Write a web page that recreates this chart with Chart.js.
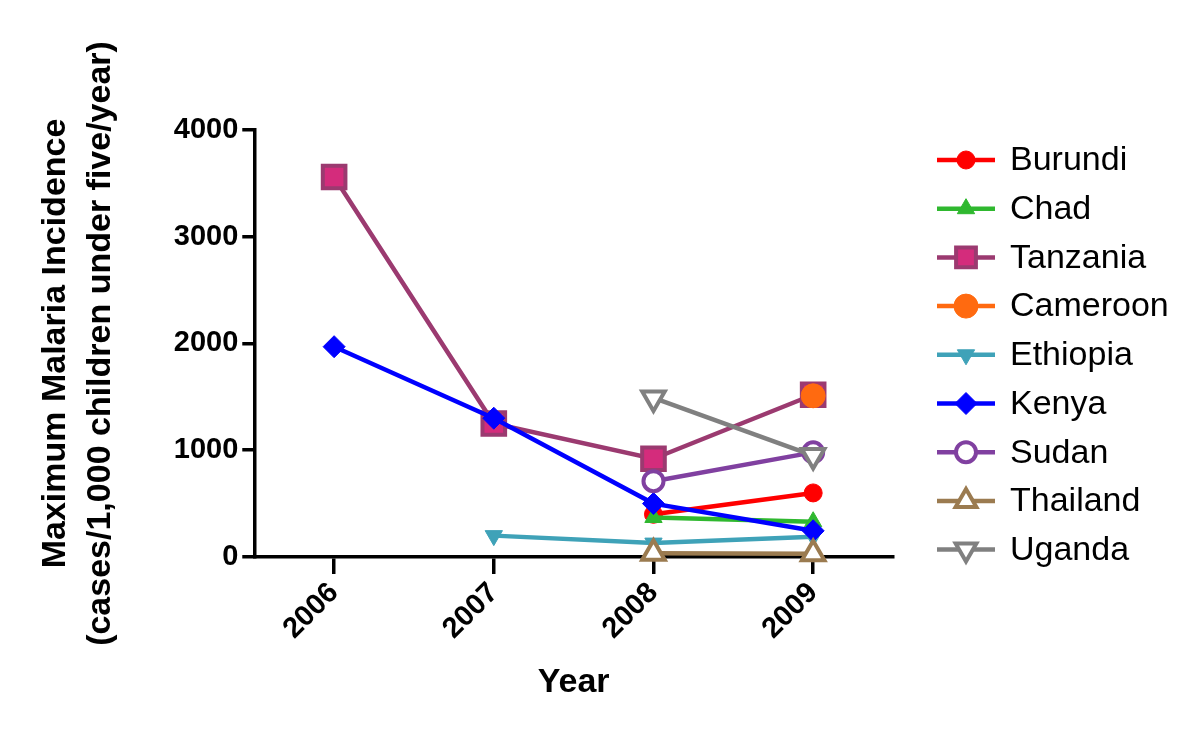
<!DOCTYPE html>
<html>
<head>
<meta charset="utf-8">
<script src="https://cdn.jsdelivr.net/npm/chart.js@4"></script>
<style>
  html, body { margin: 0; padding: 0; background: #fff; }
  #wrap { width: 1200px; height: 729px; }
</style>
</head>
<body>
<div id="wrap"><canvas id="malariaChart" width="1200" height="729"></canvas></div>
<script>
const years = ['2006', '2007', '2008', '2009'];
const countries = ['Burundi', 'Chad', 'Tanzania', 'Cameroon', 'Ethiopia', 'Kenya', 'Sudan', 'Thailand', 'Uganda'];

const burundi  = [null, null, 400, 600];
const chad     = [null, null, 370, 330];
const tanzania = [3560, 1250, 920, 1520];
const cameroon = [null, null, null, 1510];
const ethiopia = [null, 200, 130, 190];
const kenya    = [1970, 1300, 500, 245];
const sudan    = [null, null, 710, 980];
const thailand = [null, null, 35, 30];
const uganda   = [null, null, 1490, 950];

const seriesValues = [burundi, chad, tanzania, cameroon, ethiopia, kenya, sudan, thailand, uganda];

// marker look per country
const styles = [
  { color: '#ff0000', fill: '#ff0000', shape: 'circle', radius: 9, rot: 0, bw: 1 },
  { color: '#2fb82f', fill: '#2fb82f', shape: 'triangle', radius: 10, rot: 0, bw: 1 },
  { color: '#9b3a70', fill: '#d42c7c', shape: 'rect', radius: 16, rot: 0, bw: 4 },
  { color: '#ff6a10', fill: '#ff6a10', shape: 'circle', radius: 12, rot: 0, bw: 1 },
  { color: '#3fa2b8', fill: '#3fa2b8', shape: 'triangle', radius: 10, rot: 180, bw: 1 },
  { color: '#0000ff', fill: '#0000ff', shape: 'rectRot', radius: 11, rot: 0, bw: 1 },
  { color: '#8040a0', fill: '#ffffff', shape: 'circle', radius: 10, rot: 0, bw: 4 },
  { color: '#9b7b50', fill: '#ffffff', shape: 'triangle', radius: 13, rot: 0, bw: 4 },
  { color: '#808080', fill: '#ffffff', shape: 'triangle', radius: 13, rot: 180, bw: 4 }
];

const FONT = 'Arial, "Liberation Sans", sans-serif';

const datasets = countries.map((name, i) => ({
  label: name,
  data: seriesValues[i],
  borderColor: styles[i].color,
  borderWidth: 4.5,
  pointStyle: styles[i].shape,
  pointRotation: styles[i].rot,
  pointRadius: styles[i].radius,
  pointBackgroundColor: styles[i].fill,
  pointBorderColor: styles[i].color,
  pointBorderWidth: styles[i].bw,
  spanGaps: false,
  clip: false,
  order: countries.length - i
}));

// legend: short line with the marker, then the name
const sideLegend = {
  id: 'sideLegend',
  afterDraw(chart) {
    const ctx = chart.ctx;
    ctx.save();
    chart.data.datasets.forEach((ds, i) => {
      const y = 160 + i * 48.7;
      ctx.strokeStyle = ds.borderColor;
      ctx.lineWidth = 4.5;
      ctx.beginPath();
      ctx.moveTo(937, y);
      ctx.lineTo(995, y);
      ctx.stroke();
      if (Chart.helpers && Chart.helpers.drawPoint) {
        ctx.fillStyle = ds.pointBackgroundColor;
        ctx.strokeStyle = ds.pointBorderColor;
        ctx.lineWidth = ds.pointBorderWidth;
        Chart.helpers.drawPoint(ctx, {
          pointStyle: ds.pointStyle,
          rotation: ds.pointRotation,
          radius: ds.pointStyle === 'rect' ? 14 : Math.min(ds.pointRadius, 12),
          borderWidth: ds.pointBorderWidth
        }, 966, y);
      }
      ctx.fillStyle = '#000';
      ctx.font = '34px ' + FONT;
      ctx.textBaseline = 'middle';
      ctx.textAlign = 'left';
      ctx.fillText(ds.label, 1010, y + 1);
    });
    ctx.restore();
  }
};

new Chart(document.getElementById('malariaChart'), {
  type: 'line',
  data: { labels: years, datasets: datasets },
  options: {
    responsive: false,
    animation: false,
    layout: { padding: { top: 130, right: 307, bottom: 26, left: 33 } },
    plugins: {
      legend: { display: false },
      tooltip: { enabled: false }
    },
    scales: {
      x: {
        type: 'category',
        offset: true,
        border: { color: '#000', width: 3.5 },
        grid: { display: true, drawOnChartArea: false, drawTicks: true, tickLength: 17, color: '#000', lineWidth: 3.5, offset: false },
        ticks: {
          color: '#000', font: { family: FONT, size: 29, weight: 'bold' },
          maxRotation: 45, minRotation: 45, padding: 2
        },
        title: {
          display: true, text: 'Year', color: '#000',
          font: { family: FONT, size: 34, weight: 'bold' }, padding: { top: 14, bottom: 0 }
        }
      },
      y: {
        min: 0, max: 4000,
        border: { color: '#000', width: 3.5 },
        grid: { display: true, drawOnChartArea: false, drawTicks: true, tickLength: 12, color: '#000', lineWidth: 3.5 },
        ticks: {
          stepSize: 1000, color: '#000', padding: 4,
          font: { family: FONT, size: 29, weight: 'bold' },
          callback: v => String(v)
        },
        title: {
          display: true,
          text: ['Maximum Malaria Incidence', '(cases/1,000 children under five/year)'],
          color: '#000',
          font: { family: FONT, size: 34, weight: 'bold', lineHeight: 1.32 },
          padding: { top: 0, bottom: 47 }
        }
      }
    }
  },
  plugins: [sideLegend]
});
</script>
</body>
</html>
